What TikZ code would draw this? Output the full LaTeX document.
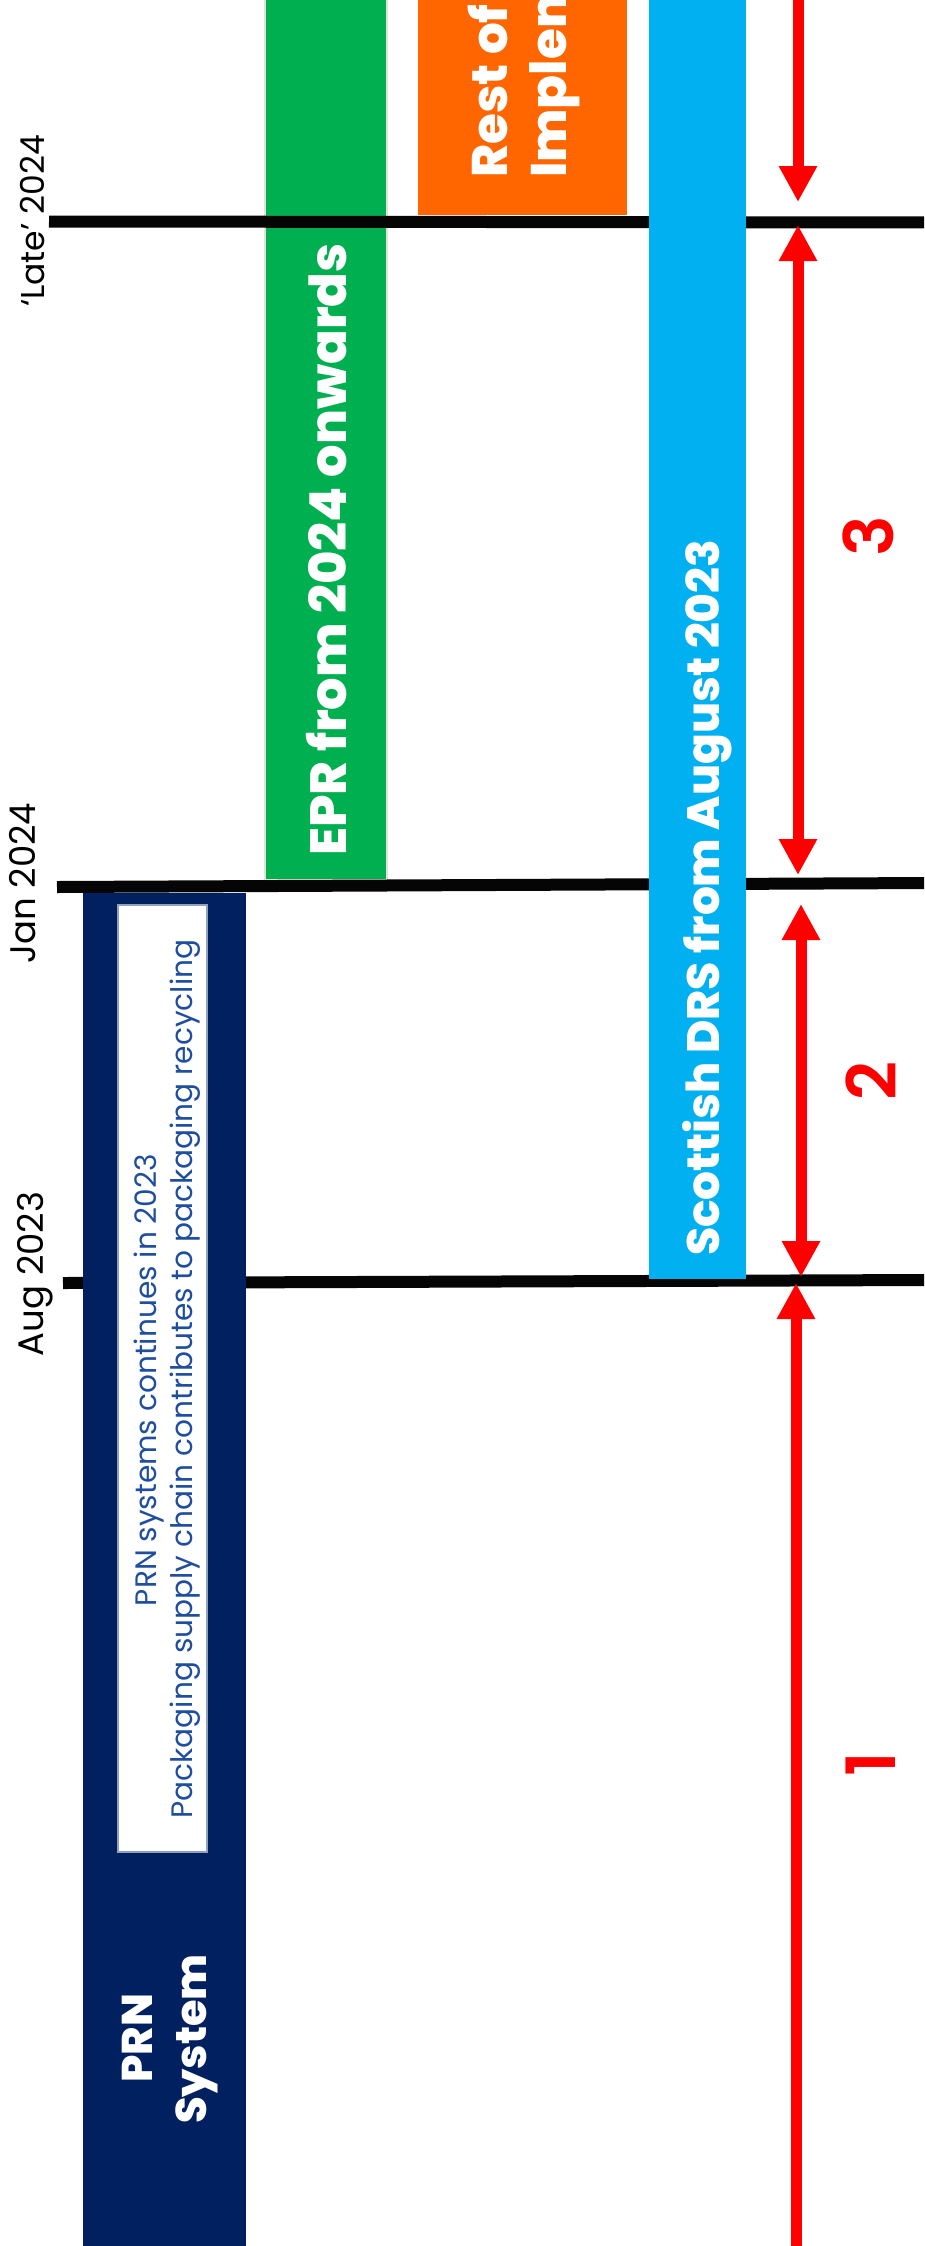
\documentclass[tikz,border=0pt]{standalone}
\usepackage{fontspec}
\newfontfamily\popfont{Poppins}
\newfontfamily\popxb{Poppins ExtraBold}
\newfontfamily\popsb{Poppins SemiBold}
\usetikzlibrary{arrows.meta}
\definecolor{navy}{RGB}{0,32,96}
\definecolor{eprgreen}{RGB}{0,176,80}
\definecolor{restorange}{RGB}{255,102,0}
\definecolor{drsblue}{RGB}{0,176,240}
\definecolor{txtblue}{RGB}{31,78,159}
\definecolor{boxedge}{RGB}{143,160,192}
\definecolor{greenedge}{RGB}{228,226,216}
\definecolor{arrowred}{RGB}{255,0,0}
\definecolor{lineblack}{RGB}{5,5,5}
\begin{document}
\begin{tikzpicture}[x=1pt,y=-1pt,
  timeline/.style={line width=12pt, lineblack},
  datelabel/.style={rotate=90, anchor=base, inner sep=0pt, text=black,
    font=\popfont\fontsize{35.5}{35.5}\selectfont},
  bartext/.style={rotate=90, anchor=base west, inner sep=0pt, text=white,
    font=\popxb\fontsize{50}{59}\selectfont},
  prntext/.style={rotate=90, anchor=base, inner sep=0pt, text=white,
    font=\popxb\fontsize{43}{54}\selectfont},
  notetext/.style={rotate=90, anchor=base, inner sep=0pt, text=txtblue,
    font=\popfont\fontsize{29.6}{29.6}\selectfont},
  periodlabel/.style={rotate=90, anchor=center, inner sep=0pt, text=arrowred,
    font=\popsb\fontsize{68}{68}\selectfont},
  period/.style={line width=11pt, arrowred, >={Triangle[length=36pt,width=36pt]}}
]
\useasboundingbox (0,0) rectangle (924,2246);
\begin{scope}
\clip (0,0) rectangle (924,2246);
% bars below the timeline
\fill[eprgreen, draw=greenedge, line width=1.5pt] (265,-5) rectangle (387,880);
\fill[restorange] (418,-5) rectangle (627,215);
% timeline markers
\coordinate (lateL) at (49,221.5);
\coordinate (lateR) at (930,222.5);
\coordinate (janL) at (57,887);
\coordinate (janR) at (930,883);
\coordinate (augL) at (63,1283);
\coordinate (augR) at (930,1280);
\draw[timeline] (lateL) -- (lateR);
\draw[timeline] (janL) -- (janR);
\draw[timeline] (augL) -- (augR);
% bars above the timeline
\fill[navy] (83,893) rectangle (246,2250);
\fill[drsblue] (649,-5) rectangle (746,1279);
\filldraw[fill=white, draw=boxedge, line width=1.5pt] (118,905) rectangle (207,1852);
% date labels
\node[datelabel, font=\popfont\fontsize{33}{33}\selectfont] (late) at (44,221) {‘Late’ 2024};
\node[datelabel] (jan) at (35,883) {Jan 2024};
\node[datelabel] (aug) at (43,1274) {Aug 2023};
% bar texts
\node[bartext, font=\popxb\fontsize{51}{59}\selectfont] (epr) at (346,856) {EPR from 2024 onwards};
\node[bartext, font=\popxb\fontsize{45.4}{59}\selectfont] (drs) at (719,1256) {Scottish DRS from August 2023};
\node[bartext] (rest1) at (507,178) {Rest of};
\node[bartext] (rest2) at (566,178) {Implem};
\node[prntext] (prn1) at (152,2038) {PRN};
\node[prntext] (prn2) at (206,2039) {System};
\node[notetext] (note1) at (156,1380) {PRN systems continues in 2023};
\node[notetext] (note2) at (192,1379) {Packaging supply chain contributes to packaging recycling};
% period arrows
\coordinate (p0top) at (798,-10);
\coordinate (p0end) at (798,202);
\coordinate (p3top) at (798,225);
\coordinate (p3end) at (798,875);
\coordinate (p2top) at (801,904);
\coordinate (p2end) at (801,1277);
\coordinate (p1top) at (796,1283);
\coordinate (p1end) at (796,2260);
\draw[period, ->] (p0top) -- (p0end);
\draw[period, <->] (p3top) -- (p3end);
\draw[period, <->] (p2top) -- (p2end);
\draw[period, <-] (p1top) -- (p1end);
\node[periodlabel] (n3) at (868,536) {3};
\node[periodlabel] (n2) at (871,1081) {2};
\node[periodlabel] (n1) at (871,1764) {1};
\end{scope}
\end{tikzpicture}
\end{document}
